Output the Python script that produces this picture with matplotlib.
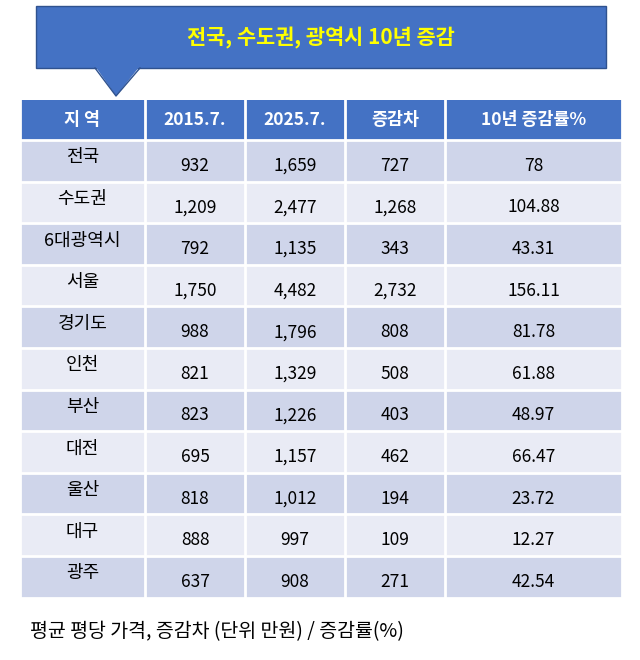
import matplotlib
matplotlib.use("Agg")
import matplotlib.pyplot as plt
from matplotlib.patches import Rectangle, Polygon
from matplotlib import font_manager

names = {f.name for f in font_manager.fontManager.ttflist}
fams = [n for n in ["Noto Sans CJK KR", "Noto Sans CJK JP", "Noto Sans CJK SC", "Noto Sans CJK TC"] if n in names]
plt.rcParams["font.family"] = fams + ["DejaVu Sans"]

title = "전국, 수도권, 광역시 10년 증감"
headers = ["지 역", "2015.7.", "2025.7.", "증감차", "10년 증감률%"]
regions = ["전국", "수도권", "6대광역시", "서울", "경기도", "인천", "부산", "대전", "울산", "대구", "광주"]
price_2015 = ["932", "1,209", "792", "1,750", "988", "821", "823", "695", "818", "888", "637"]
price_2025 = ["1,659", "2,477", "1,135", "4,482", "1,796", "1,329", "1,226", "1,157", "1,012", "997", "908"]
diff = ["727", "1,268", "343", "2,732", "808", "508", "403", "462", "194", "109", "271"]
rate = ["78", "104.88", "43.31", "156.11", "81.78", "61.88", "48.97", "66.47", "23.72", "12.27", "42.54"]
footer = "평균 평당 가격, 증감차 (단위 만원) / 증감률(%)"

fig = plt.figure(figsize=(6.4, 6.6), dpi=100)
ax = fig.add_axes([0, 0, 1, 1])
ax.set_xlim(0, 640); ax.set_ylim(660, 0); ax.axis("off")

blue = "#4472C4"
ax.add_patch(Rectangle((36, 6), 570, 62, facecolor=blue, edgecolor="#2F528F", lw=1))
ax.add_patch(Polygon([(95, 66), (140, 66), (116, 96)], facecolor=blue, edgecolor="none"))
ax.plot([95, 116, 140], [68, 96, 68], color="#2F528F", lw=1)
ax.text(321, 38, title, color="#FFFF00", fontsize=15, fontweight="bold", ha="center", va="center")

cols = [20, 145, 245, 345, 445, 622]
top, hh, rh = 100, 40, 41.6
ax.add_patch(Rectangle((cols[0], top), cols[-1]-cols[0], hh, facecolor=blue, edgecolor="none"))
for i, h in enumerate(headers):
    ax.text((cols[i]+cols[i+1])/2, top+hh/2, h, color="white", fontsize=12.5, fontweight="bold", ha="center", va="center")
data = [price_2015, price_2025, diff, rate]
for r, reg in enumerate(regions):
    y0 = top + hh + r*rh
    ax.add_patch(Rectangle((cols[0], y0), cols[-1]-cols[0], rh,
                           facecolor="#CFD5EA" if r % 2 == 0 else "#E9EBF5", edgecolor="none"))
    ax.text((cols[0]+cols[1])/2, y0+rh*0.42, reg, fontsize=13, ha="center", va="center")
    for c, arr in enumerate(data):
        ax.text((cols[c+1]+cols[c+2])/2, y0+rh*0.62, arr[r], fontsize=12.5, ha="center", va="center")
bottom = top + hh + len(regions)*rh
for x in cols:
    ax.plot([x, x], [top, bottom], color="white", lw=2)
for r in range(len(regions)+1):
    y = top + hh + r*rh
    ax.plot([cols[0], cols[-1]], [y, y], color="white", lw=2)
ax.text(30, 632, footer, fontsize=14, ha="left", va="center")
fig.savefig("out.png", dpi=100)
